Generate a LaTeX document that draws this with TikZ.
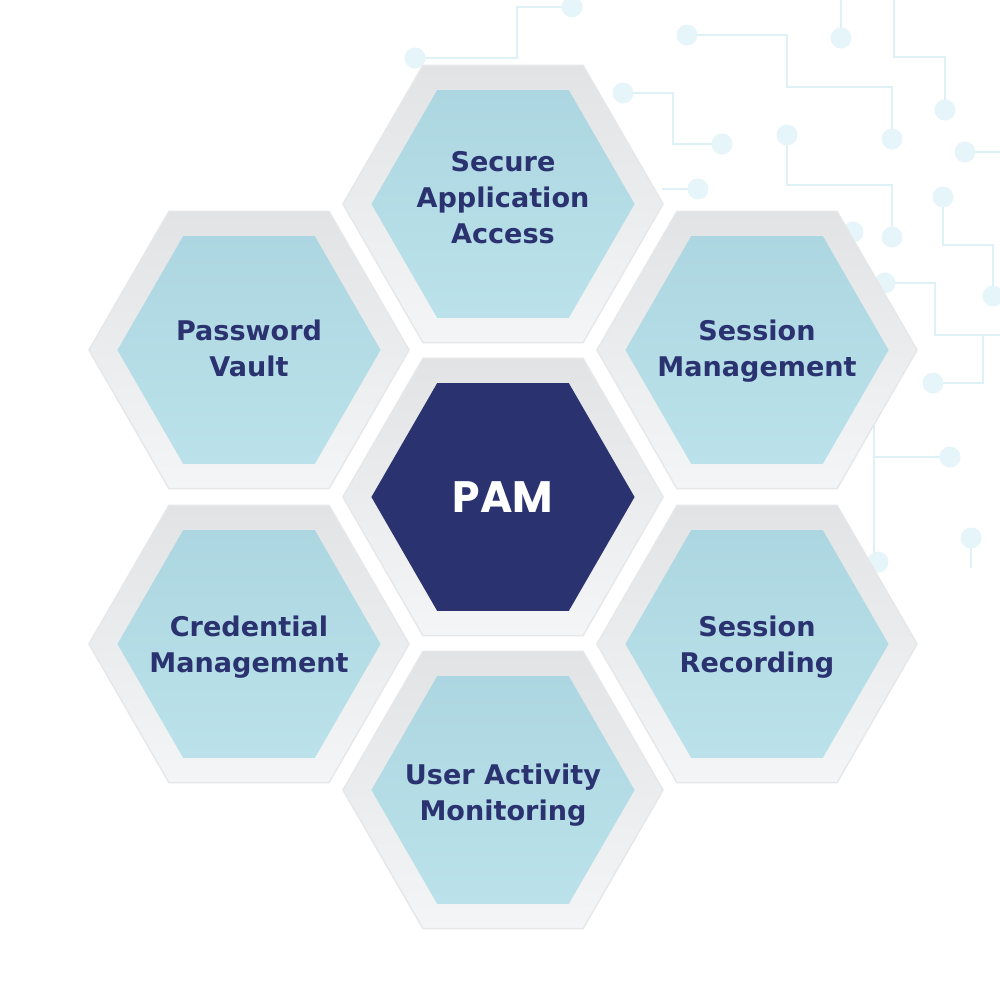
\documentclass[tikz,border=0pt]{standalone}
\usepackage{fontspec}
\setmainfont{DejaVu Sans}
\newfontfamily\pamfont{Poppins}
\usetikzlibrary{shapes.geometric}
\usepackage{xcolor}
\definecolor{pamnavy}{HTML}{2B3270}
\definecolor{celltop}{HTML}{ACD6E1}
\definecolor{cellbot}{HTML}{BBE2EA}
\definecolor{shelltop}{HTML}{E2E3E5}
\definecolor{shellbot}{HTML}{F4F5F6}
\definecolor{shelledge}{HTML}{E6E7E9}
\definecolor{tracecol}{HTML}{DDF1F7}
\definecolor{padcol}{HTML}{E6F5FA}

\begin{document}
\begin{tikzpicture}[x=0.01cm, y=-0.01cm,
  hexbase/.style={regular polygon, regular polygon sides=6, inner sep=0pt},
  shell/.style={hexbase, minimum size=3.2cm, top color=shelltop, bottom color=shellbot, draw=shelledge, line width=0.4pt},
  cell/.style={hexbase, minimum size=2.63cm, top color=celltop, bottom color=cellbot},
  celltext/.style={inner sep=0pt, text=pamnavy, align=center, font=\bfseries\fontsize{7.7}{10.25}\selectfont},
  core/.style={hexbase, minimum size=2.63cm, fill=pamnavy, text=white, font=\pamfont\bfseries\fontsize{12.5}{14}\selectfont},
  trace/.style={draw=tracecol, line width=0.5pt},
  pad/.style={fill=padcol}]
\fill[white] (0,0) rectangle (1000,1002);
\useasboundingbox (0,0) rectangle (1000,1002);

% circuit traces in the background
\draw[trace] (572,7)--(517,7)--(517,58)--(415,58);
\draw[trace] (687,35)--(787,35)--(787,87)--(892,87)--(892,139);
\draw[trace] (623,93)--(673,93)--(673,144)--(722,144);
\draw[trace] (662,189)--(698,189);
\draw[trace] (841,0)--(841,38);
\draw[trace] (894,0)--(894,57)--(945,57)--(945,110);
\draw[trace] (787,135)--(787,185)--(892,185)--(892,237);
\draw[trace] (965,152)--(1000,152);
\draw[trace] (943,197)--(943,245)--(993,245)--(993,296);
\draw[trace] (885,283)--(935,283)--(935,335)--(1000,335);
\draw[trace] (983,335)--(983,383)--(933,383);
\draw[trace] (874,420)--(874,560);
\draw[trace] (874,457)--(950,457);
\draw[trace] (971,538)--(971,568);
\foreach \p in {(572,7),(415,58),(687,35),(892,139),(623,93),(722,144),(698,189),
  (841,38),(945,110),(787,135),(892,237),(965,152),(943,197),(993,296),
  (885,283),(933,383),(950,457),(878,562),(971,538),(853,232)}
  \fill[pad] \p circle (10.5);

% hexagons
\foreach \name/\pos/\txt/\dy in {
  secure/{(503,204)}/{Secure\\Application\\Access}/-6,
  vault/{(249,350)}/{Password\\Vault}/-2,
  session/{(757,350)}/{Session\\Management}/1,
  credential/{(249,644)}/{Credential\\Management}/3,
  recording/{(757,644)}/{Session\\Recording}/3,
  activity/{(503,790)}/{User Activity\\Monitoring}/5} {
  \node[shell] (\name-shell) at \pos {};
  \node[cell] (\name) at \pos {};
  \node[celltext] (\name-label) at ([yshift=-\dy*0.01cm]\name.center) {\txt};
}
\node[shell] (pam-shell) at (503,497) {};
\node[core] (pam) at (503,497) {PAM};
\end{tikzpicture}
\end{document}
